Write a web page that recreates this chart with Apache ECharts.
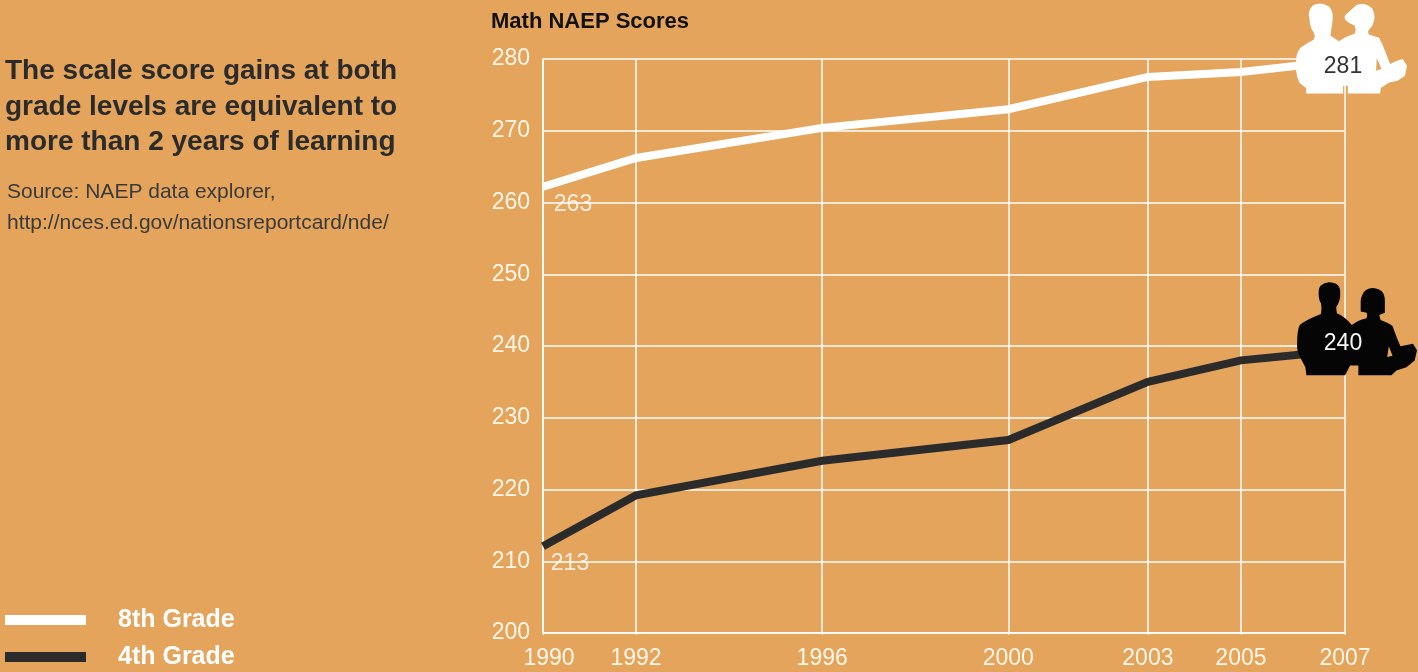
<!DOCTYPE html>
<html><head><meta charset="utf-8">
<style>html,body{margin:0;padding:0;background:#E4A45C}#c{width:1418px;height:672px}</style>
<script src="https://cdn.jsdelivr.net/npm/echarts@6/dist/echarts.min.js"></script>
</head><body><div id="c"></div>
<script>
const yearLabels = ['1990','1992','1996','2000','2003','2005','2007'];
// the reference draws its 2007 column slightly wider than the calendar gap
const yearPositions = [1990,1992,1996,2000,2003,2005,2007.236];
const grade8 = [262.2,266.2,270.4,273,277.5,278.2,279.8];
const grade4 = [212.1,219.2,224,226.9,235,238,239.4];
const grade8Labels = ['263','281'];
const grade4Labels = ['213','240'];
const yTicks = [200,210,220,230,240,250,260,270,280];

const manWoman = 'path://M168 278L168 262L150 248Q136 225 138 190Q136 160 150 142Q170 128 190 118Q196 108 192 98Q178 80 178 55Q170 30 190 14Q215 2 238 20Q252 40 245 72L240 105L265 122Q285 108 312 100Q318 90 312 75Q295 70 284 58Q278 45 295 35Q305 25 318 14Q345 4 365 25Q378 50 365 75Q355 88 352 92L354 102L385 112Q395 130 402 150L418 190L440 180L455 175L468 195L462 225L440 240L415 245L390 262L388 278L292 278L292 255L278 255L278 278ZM378 172L376 210L392 205Z';
const manWomanDark = 'path://M168 314L165 290L150 262Q138 240 140 220Q140 180 148 165Q165 150 212 132Q216 115 212 100Q205 92 205 70Q203 42 235 38Q272 38 270 70Q272 92 258 112L260 130Q285 140 305 165Q325 150 350 145Q354 135 350 128L332 125L332 92Q338 55 370 55Q405 58 405 92L405 128L388 135L392 150Q420 160 428 168L442 205L452 228L490 220L502 240L495 270L470 290L440 300L425 314L325 314L325 285L300 285L285 314ZM417 228L412 260L428 256Z';

const pairs = a => a.map((v,i)=>[yearPositions[i],v]);
const last = a => [yearPositions[yearPositions.length-1], a[a.length-1]];
const WHITE='#fff', DARK='#2b2b2b';
const FS=23;
const endLabel = (text,color,offset)=>({show:true,formatter:text,color,fontFamily:'Liberation Sans',fontSize:FS,position:'inside',offset});
const startLabel = (text,offset)=>({show:true,formatter:text,color:'#fff',fontFamily:'Liberation Sans',fontSize:FS,position:'inside',offset});

const chart = echarts.init(document.getElementById('c'),null,{renderer:'canvas'});
chart.setOption({
  backgroundColor:'#E4A45C',
  animation:false,
  title:[
    {text:'Math NAEP Scores',left:486,top:6,textStyle:{fontFamily:'Liberation Sans',fontWeight:'bold',fontSize:22,color:'#111'}},
    {text:'The scale score gains at both\ngrade levels are equivalent to\nmore than 2 years of learning',left:0,top:49,
     textStyle:{fontFamily:'Liberation Sans',fontWeight:'bold',fontSize:28,lineHeight:35.5,color:'#2b2b2b'}},
    {text:'Source: NAEP data explorer,\nhttp://nces.ed.gov/nationsreportcard/nde/',left:2,top:172,
     textStyle:{fontFamily:'Liberation Sans',fontWeight:'normal',fontSize:21,lineHeight:31,color:'#3a3a3a'}}
  ],
  legend:{orient:'vertical',left:0,top:602,height:70,itemWidth:81,itemHeight:10,itemGap:11,icon:'rect',
    data:['8th Grade','4th Grade'],
    textStyle:{fontFamily:'Liberation Sans',fontWeight:'bold',fontSize:25,lineHeight:26,color:'#fff',padding:[0,0,0,27]}},
  grid:{left:543,right:73,top:59,bottom:39,containLabel:false},
  xAxis:{type:'value',min:1990,max:yearPositions[6],
    splitLine:{show:true,lineStyle:{color:WHITE,width:1.5}},
    axisLine:{show:true,onZero:false,lineStyle:{color:WHITE,width:1.5}},
    axisTick:{show:true,length:2,customValues:yearPositions,lineStyle:{color:WHITE}},
    axisLabel:{customValues:yearPositions,margin:14,color:'#fff6e8',fontFamily:'Liberation Sans',fontSize:FS,
      formatter:v=>{const t=yearLabels[yearPositions.indexOf(v)];return v===1990?'{first|'+t+'}':t;},
      rich:{first:{padding:[0,0,0,12],color:'#fff6e8',fontFamily:'Liberation Sans',fontSize:FS}}}},
  yAxis:{type:'value',min:200,max:280,interval:10,
    splitLine:{show:true,lineStyle:{color:WHITE,width:1.5}},
    axisLine:{show:true,onZero:false,lineStyle:{color:WHITE,width:1.5}},
    axisTick:{show:false},
    axisLabel:{margin:13,padding:[3,0,0,0],color:'#fff6e8',fontFamily:'Liberation Sans',fontSize:FS,
      formatter:v=>yTicks.includes(v)?String(v):''}},
  series:[
    {name:'8th Grade',type:'line',data:pairs(grade8),symbol:'none',z:3,clip:false,color:WHITE,
     lineStyle:{color:WHITE,width:8,join:'miter',cap:'butt'},itemStyle:{color:WHITE}},
    {name:'4th Grade',type:'line',data:pairs(grade4),symbol:'none',z:3,clip:false,color:DARK,
     lineStyle:{color:DARK,width:8,join:'miter',cap:'butt'},itemStyle:{color:DARK}},
    {type:'scatter',z:5,clip:false,silent:true,symbol:manWoman,symbolSize:[111,90],symbolOffset:[6.5,-12],symbolKeepAspect:false,
     itemStyle:{color:WHITE,opacity:1},data:[{value:last(grade8),label:endLabel(grade8Labels[1],'#333',[-8.5,18])}]},
    {type:'scatter',z:5,clip:false,silent:true,symbol:manWomanDark,symbolSize:[120,93],symbolOffset:[12,-21.5],symbolKeepAspect:false,
     itemStyle:{color:'#050505',opacity:1},data:[{value:last(grade4),label:endLabel(grade4Labels[1],'#f6f6f6',[-14,15])}]},
    {type:'scatter',z:4,clip:false,silent:true,symbolSize:1,itemStyle:{color:'transparent'},
     data:[{value:[yearPositions[0],grade8[0]],label:startLabel(grade8Labels[0],[30,18])},
           {value:[yearPositions[0],grade4[0]],label:startLabel(grade4Labels[0],[27,17])}]}
  ]
});
</script></body></html>
